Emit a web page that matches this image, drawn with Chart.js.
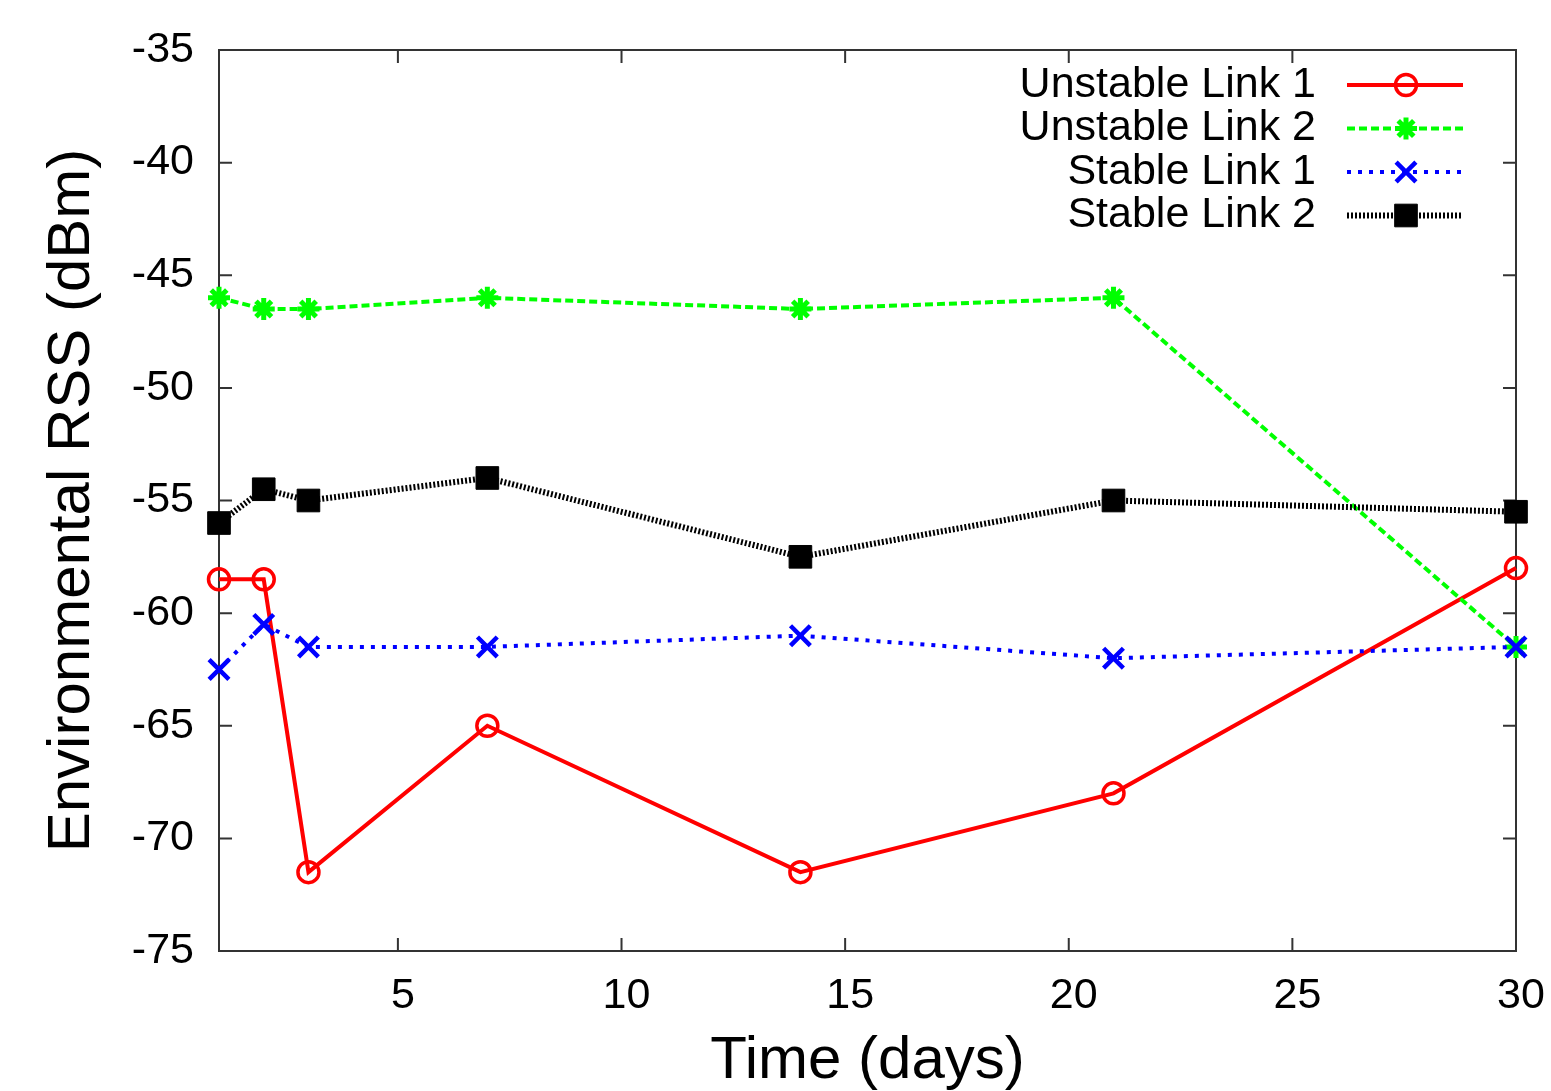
<!DOCTYPE html>
<html>
<head>
<meta charset="utf-8">
<title>Environmental RSS over time</title>
<script src="https://cdn.jsdelivr.net/npm/chart.js@4.4.1/dist/chart.umd.min.js"></script>
<style>
    html, body { margin: 0; padding: 0; background: #fff; }
    #rss-chart { display: block; }
</style>
</head>
<body>
<canvas id="rss-chart" width="1551" height="1091"></canvas>
<script>
const days = [1, 2, 3, 7, 14, 21, 30];
const unstableLink1 = [-58.5, -58.5, -71.5, -65, -71.5, -68, -58];
const unstableLink2 = [-46, -46.5, -46.5, -46, -46.5, -46, -61.5];
const stableLink1 = [-62.5, -60.5, -61.5, -61.5, -61, -62, -61.5];
const stableLink2 = [-56, -54.5, -55, -54, -57.5, -55, -55.5];

const seriesLabels = ["Unstable Link 1", "Unstable Link 2", "Stable Link 1", "Stable Link 2"];
const xTicks = [5, 10, 15, 20, 25, 30];
const yTicks = [-75, -70, -65, -60, -55, -50, -45, -40, -35];

const FONT = "'Liberation Sans', Arial, sans-serif";

window.addEventListener("DOMContentLoaded", init);

function toPoints(values) {
    return days.map((d, i) => ({ x: d, y: values[i] }));
}

// Cadre + graduations vers l'intérieur sur les 4 côtés
const framePlugin = {
    id: "frame",
    beforeDatasetsDraw(chart) {
        const { ctx, chartArea: a, scales } = chart;
        const len = 13;
        ctx.save();
        ctx.strokeStyle = "#333";
        ctx.lineWidth = 2;
        ctx.strokeRect(a.left, a.top, a.right - a.left, a.bottom - a.top);
        ctx.beginPath();
        xTicks.forEach((v) => {
            const px = scales.x.getPixelForValue(v);
            ctx.moveTo(px, a.bottom);
            ctx.lineTo(px, a.bottom - len);
            ctx.moveTo(px, a.top);
            ctx.lineTo(px, a.top + len);
        });
        yTicks.forEach((v) => {
            const py = scales.y.getPixelForValue(v);
            ctx.moveTo(a.left, py);
            ctx.lineTo(a.left + len, py);
            ctx.moveTo(a.right, py);
            ctx.lineTo(a.right - len, py);
        });
        ctx.stroke();
        ctx.restore();
    },
};

// Légende à la gnuplot : texte à droite, échantillon après
const cornerLegend = {
    id: "cornerLegend",
    afterDraw(chart) {
        const { ctx } = chart;
        const textRight = 1316;
        const lineStart = 1347;
        const lineEnd = 1463;
        const firstRow = 85;
        const rowGap = 43.5;

        chart.data.datasets.forEach((ds, i) => {
            const y = firstRow + i * rowGap;
            ctx.save();
            ctx.font = `43px ${FONT}`;
            ctx.fillStyle = "#000";
            ctx.textAlign = "right";
            ctx.textBaseline = "middle";
            ctx.fillText(ds.label, textRight, y);

            ctx.strokeStyle = ds.borderColor;
            ctx.lineWidth = ds.borderWidth;
            ctx.setLineDash(ds.borderDash || []);
            ctx.beginPath();
            ctx.moveTo(lineStart, y);
            ctx.lineTo(lineEnd, y);
            ctx.stroke();
            ctx.setLineDash([]);

            ctx.fillStyle = ds.pointBackgroundColor;
            ctx.strokeStyle = ds.pointBorderColor;
            ctx.lineWidth = ds.pointBorderWidth;
            Chart.helpers.drawPoint(ctx, {
                pointStyle: ds.pointStyle,
                radius: ds.pointRadius,
                rotation: 0,
                borderWidth: ds.pointBorderWidth,
            }, (lineStart + lineEnd) / 2 + 1, y);
            ctx.restore();
        });
    },
};

function init() {
    Chart.defaults.font.family = FONT;
    Chart.defaults.color = "#000";

    const ctx = document.getElementById("rss-chart").getContext("2d");

    new Chart(ctx, {
        type: "line",
        data: {
            datasets: [
                {
                    label: seriesLabels[0],
                    data: toPoints(unstableLink1),
                    borderColor: "#ff0000",
                    borderWidth: 4,
                    pointStyle: "circle",
                    pointRadius: 10.5,
                    pointBorderWidth: 3.5,
                    pointBorderColor: "#ff0000",
                    pointBackgroundColor: "rgba(0,0,0,0)",
                    order: 4,
                },
                {
                    label: seriesLabels[1],
                    data: toPoints(unstableLink2),
                    borderColor: "#00ff00",
                    borderWidth: 4,
                    borderDash: [8, 4],
                    pointStyle: "star",
                    pointRadius: 11,
                    pointBorderWidth: 5,
                    pointBorderColor: "#00ff00",
                    pointBackgroundColor: "#00ff00",
                    order: 3,
                },
                {
                    label: seriesLabels[2],
                    data: toPoints(stableLink1),
                    borderColor: "#0000ff",
                    borderWidth: 4,
                    borderDash: [4, 7],
                    pointStyle: "crossRot",
                    pointRadius: 14,
                    pointBorderWidth: 4.5,
                    pointBorderColor: "#0000ff",
                    pointBackgroundColor: "#0000ff",
                    order: 2,
                },
                {
                    label: seriesLabels[3],
                    data: toPoints(stableLink2),
                    borderColor: "#000000",
                    borderWidth: 6,
                    borderDash: [2, 2],
                    pointStyle: "rect",
                    pointRadius: 16,
                    pointBorderWidth: 1,
                    pointBorderColor: "#000000",
                    pointBackgroundColor: "#000000",
                    order: 1,
                },
            ],
        },
        options: {
            responsive: false,
            animation: false,
            clip: false,
            layout: {
                padding: { left: 0, right: 35, top: 50, bottom: 0 },
            },
            elements: {
                line: { tension: 0, fill: false },
            },
            plugins: {
                legend: { display: false },
                tooltip: { enabled: false },
            },
            scales: {
                x: {
                    type: "linear",
                    min: 1,
                    max: 30,
                    afterBuildTicks: (scale) => {
                        scale.ticks = xTicks.map((v) => ({ value: v }));
                    },
                    afterFit: (scale) => {
                        scale.height = 140;
                        // le "30" déborde, mais on garde le cadre à 1516 px
                        scale.paddingLeft = 0;
                        scale.paddingRight = 0;
                    },
                    grid: { display: false, drawTicks: false },
                    border: { display: false },
                    ticks: {
                        font: { size: 43, lineHeight: 1 },
                        color: "#000",
                        padding: 24,
                        labelOffset: 5,
                        maxRotation: 0,
                    },
                    title: {
                        display: true,
                        text: "Time (days)",
                        font: { size: 60, lineHeight: 1 },
                        color: "#000",
                        padding: 0,
                    },
                },
                y: {
                    type: "linear",
                    min: -75,
                    max: -35,
                    afterBuildTicks: (scale) => {
                        scale.ticks = yTicks.map((v) => ({ value: v }));
                    },
                    afterFit: (scale) => {
                        scale.width = 219;
                    },
                    grid: { display: false, drawTicks: false },
                    border: { display: false },
                    ticks: {
                        font: { size: 43, lineHeight: 1 },
                        color: "#000",
                        padding: 25,
                    },
                    title: {
                        display: true,
                        text: "Environmental RSS (dBm)",
                        font: { size: 60, lineHeight: 1 },
                        color: "#000",
                        padding: { top: 42, bottom: 0 },
                    },
                },
            },
        },
        plugins: [framePlugin, cornerLegend],
    });
}
</script>
</body>
</html>
